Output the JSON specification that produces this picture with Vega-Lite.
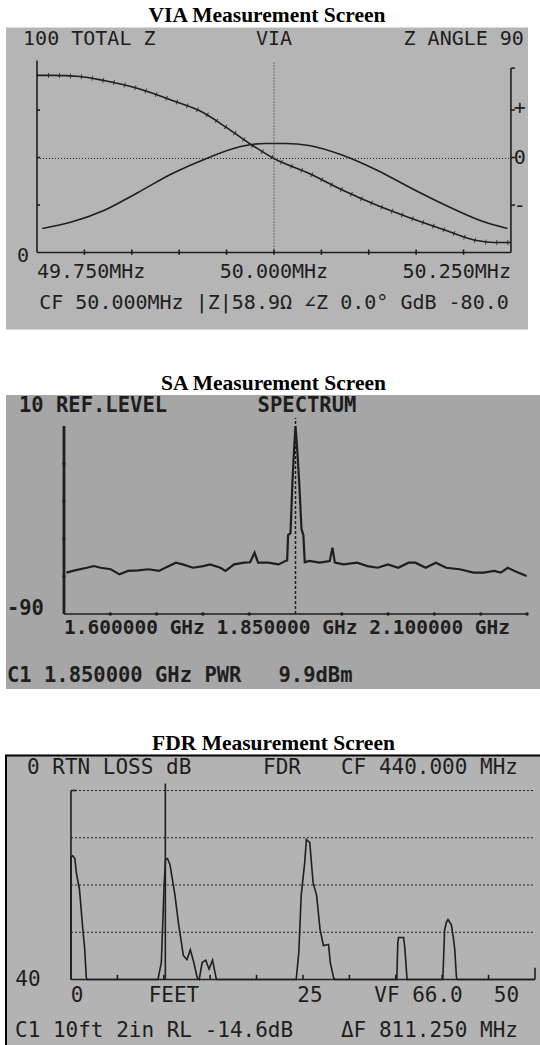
{
  "$schema": "https://vega.github.io/schema/vega-lite/v6.json",
  "padding": {"left": 5, "top": 4.5, "right": 0, "bottom": 0},
  "spacing": 42.5,
  "config": {
    "view": {"stroke": null},
    "title": {"font": "Liberation Serif", "fontSize": 21.5, "fontWeight": "bold", "color": "#000000", "offset": 1, "anchor": "middle"},
    "text": {"font": "DejaVu Sans Mono", "color": "#1e1e1e", "baseline": "middle", "fontSize": 20},
    "rule": {"color": "#1e1e1e"},
    "line": {"color": "#1e1e1e"}
  },
  "datasets": {
    "via_z": [{"f":49.75,"z":93.2},{"f":49.765,"z":93.2},{"f":49.7953,"z":92.6},{"f":49.8205,"z":90.5},{"f":49.8566,"z":86.3},{"f":49.8928,"z":80.0},{"f":49.9252,"z":73.7},{"f":49.9513,"z":65.3},{"f":49.9776,"z":56.3},{"f":50.0,"z":49.5},{"f":50.0371,"z":41.6},{"f":50.0733,"z":32.6},{"f":50.1093,"z":24.7},{"f":50.1454,"z":17.9},{"f":50.1816,"z":11.6},{"f":50.214,"z":6.3},{"f":50.232,"z":5.3},{"f":50.25,"z":5.3}],
    "via_angle": [{"f":49.7556,"a":-67.3},{"f":49.7845,"a":-61.6},{"f":49.8205,"a":-50.2},{"f":49.8566,"a":-33.1},{"f":49.8928,"a":-15.2},{"f":49.9288,"a":-0.9},{"f":49.9649,"a":10.4},{"f":49.9903,"a":13.3},{"f":50.0118,"a":13.3},{"f":50.0371,"a":11.4},{"f":50.0733,"a":1.9},{"f":50.1093,"a":-12.3},{"f":50.1454,"a":-29.4},{"f":50.1816,"a":-45.5},{"f":50.2176,"a":-59.7},{"f":50.2464,"a":-67.3}],
    "via_rules": [
      {"f":49.75,"f2":49.75,"z":0,"z2":101},{"f":49.75,"f2":50.25,"z":0,"z2":0},{"f":50.25,"f2":50.25,"z":0,"z2":97},{"f":50.25,"f2":50.2542,"z":97,"z2":97},
      {"f":49.75,"f2":49.7532,"z":25,"z2":25},{"f":49.75,"f2":49.7532,"z":50,"z2":50},{"f":49.75,"f2":49.7532,"z":75,"z2":75},
      {"f":50.25,"f2":50.2542,"z":25,"z2":25},{"f":50.25,"f2":50.2542,"z":50,"z2":50},{"f":50.25,"f2":50.2542,"z":75,"z2":75},
      {"f":49.80,"f2":49.80,"z":-1.2,"z2":1.6},{"f":49.85,"f2":49.85,"z":-1.2,"z2":1.6},{"f":49.90,"f2":49.90,"z":-1.2,"z2":1.6},{"f":49.95,"f2":49.95,"z":-1.2,"z2":1.6},{"f":50.00,"f2":50.00,"z":-1.2,"z2":1.6},{"f":50.05,"f2":50.05,"z":-1.2,"z2":1.6},{"f":50.10,"f2":50.10,"z":-1.2,"z2":1.6},{"f":50.15,"f2":50.15,"z":-1.2,"z2":1.6},{"f":50.20,"f2":50.20,"z":-1.2,"z2":1.6}
    ],
    "via_dotted": [{"f":50.0,"f2":50.0,"z":0,"z2":100},{"f":49.75,"f2":50.25,"z":49.5,"z2":49.5}],
    "via_text_left": [{"label":"100 TOTAL Z","f":49.7353,"z":112.1},{"label":"49.750MHz","f":49.75,"z":-10}],
    "via_text_center": [{"label":"VIA","f":50.0,"z":112.1},{"label":"50.000MHz","f":50.0,"z":-10},{"label":"0","f":49.7353,"z":-2},{"label":"CF 50.000MHz |Z|58.9Ω ∠Z 0.0° GdB -80.0","f":50.0,"z":-26.8},{"label":"+","f":50.2593,"z":75.8},{"label":"0","f":50.2593,"z":49.5},{"label":"-","f":50.2593,"z":24.7}],
    "via_text_right": [{"label":"Z ANGLE 90","f":50.2637,"z":112.1},{"label":"50.250MHz","f":50.25,"z":-10}],
    "sa_trace": [{"f":1.6026,"l":-68.0},{"f":1.6118,"l":-66.8},{"f":1.6248,"l":-65.4},{"f":1.6322,"l":-64.5},{"f":1.6396,"l":-65.4},{"f":1.6506,"l":-66.2},{"f":1.6599,"l":-68.9},{"f":1.6691,"l":-67.1},{"f":1.6802,"l":-66.8},{"f":1.6913,"l":-66.2},{"f":1.7024,"l":-67.1},{"f":1.7134,"l":-64.5},{"f":1.7208,"l":-62.7},{"f":1.7282,"l":-63.6},{"f":1.7393,"l":-65.4},{"f":1.7504,"l":-64.5},{"f":1.7578,"l":-63.6},{"f":1.7689,"l":-65.4},{"f":1.7745,"l":-67.1},{"f":1.7837,"l":-63.6},{"f":1.7948,"l":-62.7},{"f":1.801,"l":-62.5},{"f":1.8058,"l":-57.4},{"f":1.8096,"l":-62.7},{"f":1.8206,"l":-62.7},{"f":1.8317,"l":-63.6},{"f":1.8391,"l":-61.8},{"f":1.841,"l":-61.5},{"f":1.842,"l":-48},{"f":1.8446,"l":-47},{"f":1.8467,"l":-20},{"f":1.8485,"l":-2},{"f":1.85,"l":9.9},{"f":1.8518,"l":-2},{"f":1.854,"l":-20},{"f":1.8565,"l":-45},{"f":1.8585,"l":-48},{"f":1.86,"l":-62.5},{"f":1.8649,"l":-61.8},{"f":1.876,"l":-62.7},{"f":1.887,"l":-61.8},{"f":1.8899,"l":-54.7},{"f":1.8925,"l":-62.7},{"f":1.9018,"l":-63.6},{"f":1.9165,"l":-62.7},{"f":1.9277,"l":-64.5},{"f":1.9388,"l":-65.4},{"f":1.9498,"l":-63.6},{"f":1.9609,"l":-65.4},{"f":1.972,"l":-62.7},{"f":1.9795,"l":-62.7},{"f":1.9905,"l":-65.4},{"f":2.0016,"l":-62.7},{"f":2.0127,"l":-65.4},{"f":2.0274,"l":-66.2},{"f":2.0422,"l":-68.0},{"f":2.0533,"l":-68.0},{"f":2.0644,"l":-67.1},{"f":2.0718,"l":-68.0},{"f":2.0791,"l":-65.4},{"f":2.0865,"l":-67.1},{"f":2.0995,"l":-69.8}],
    "sa_axes": [{"f":1.6,"f2":2.1,"l":-90,"l2":-90}],
    "sa_left": [{"f":1.6,"f2":1.6,"l":-90,"l2":10}],
    "sa_dashed": [{"f":1.85,"f2":1.85,"l":-90,"l2":14.3}],
    "sa_dots": [{"f":1.65,"l":-90},{"f":1.7,"l":-90},{"f":1.75,"l":-90},{"f":1.8,"l":-90},{"f":1.9,"l":-90},{"f":1.95,"l":-90},{"f":2.0,"l":-90},{"f":2.05,"l":-90},{"f":2.1,"l":-90},{"f":1.6,"l":-10},{"f":1.6,"l":-30},{"f":1.6,"l":-50},{"f":1.6,"l":-70}],
    "sa_text_left": [{"label":"10 REF.LEVEL","f":1.5514,"l":20.6},{"label":"-90","f":1.5384,"l":-87.3},{"label":"C1 1.850000 GHz PWR\u00a0\u00a0 9.9dBm","f":1.5384,"l":-123.0}],
    "sa_text_axis": [{"label":"1.600000 GHz 1.850000 GHz 2.100000 GHz","f":1.6,"l":-97.4}],
    "sa_text_center": [{"label":"SPECTRUM","f":1.8624,"l":20.6}],
    "fdr_trace": [{"ft":0,"db":40},{"ft":0,"db":14.0},{"ft":0.18,"db":13.8},{"ft":0.42,"db":14.4},{"ft":0.58,"db":17.4},{"ft":0.92,"db":21.0},{"ft":1.28,"db":29.4},{"ft":1.47,"db":33.2},{"ft":1.65,"db":39.6},{"ft":1.75,"db":40},{"ft":9.37,"db":40},{"ft":9.74,"db":36.4},{"ft":10.04,"db":19.9},{"ft":10.19,"db":14.6},{"ft":10.4,"db":14.4},{"ft":10.67,"db":15.7},{"ft":11.21,"db":22.2},{"ft":11.57,"db":27.9},{"ft":12.11,"db":34.9},{"ft":12.5,"db":35.8},{"ft":12.86,"db":33.7},{"ft":13.24,"db":36.4},{"ft":13.6,"db":39.6},{"ft":13.82,"db":40},{"ft":14.14,"db":36.4},{"ft":14.52,"db":35.9},{"ft":14.88,"db":37.8},{"ft":15.26,"db":35.9},{"ft":15.63,"db":39.6},{"ft":15.74,"db":40},{"ft":24.27,"db":40},{"ft":24.55,"db":34.3},{"ft":24.81,"db":22.2},{"ft":25.19,"db":15.2},{"ft":25.37,"db":10.4},{"ft":25.73,"db":11.0},{"ft":26.09,"db":19.5},{"ft":26.47,"db":22.2},{"ft":26.84,"db":29.4},{"ft":27.2,"db":32.8},{"ft":27.76,"db":32.6},{"ft":27.94,"db":36.4},{"ft":28.3,"db":39.6},{"ft":28.44,"db":40},{"ft":35.11,"db":40},{"ft":35.22,"db":32.2},{"ft":35.3,"db":31.1},{"ft":35.84,"db":31.1},{"ft":35.97,"db":33.2},{"ft":36.22,"db":40},{"ft":40.07,"db":40},{"ft":40.26,"db":29.6},{"ft":40.45,"db":27.9},{"ft":40.63,"db":27.3},{"ft":40.99,"db":28.4},{"ft":41.2,"db":31.1},{"ft":41.36,"db":33.7},{"ft":41.54,"db":39.6},{"ft":41.63,"db":40},{"ft":50,"db":40}],
    "fdr_rules": [{"ft":0,"ft2":0,"db":0,"db2":40},{"ft":0,"ft2":50,"db":40,"db2":40},{"ft":10.17,"ft2":10.17,"db":-1.5,"db2":40},{"ft":0,"ft2":0.6,"db":0,"db2":0},{"ft":5,"ft2":5,"db":40,"db2":39},{"ft":10,"ft2":10,"db":40,"db2":39},{"ft":15,"ft2":15,"db":40,"db2":39},{"ft":20,"ft2":20,"db":40,"db2":39},{"ft":25,"ft2":25,"db":40,"db2":39},{"ft":30,"ft2":30,"db":40,"db2":39},{"ft":35,"ft2":35,"db":40,"db2":39},{"ft":40,"ft2":40,"db":40,"db2":39},{"ft":45,"ft2":45,"db":40,"db2":39},{"ft":50,"ft2":50,"db":40,"db2":37.5}],
    "fdr_grid": [{"ft":0,"ft2":50,"db":0,"db2":0},{"ft":0,"ft2":50,"db":10,"db2":10},{"ft":0,"ft2":50,"db":20,"db2":20},{"ft":0,"ft2":50,"db":30,"db2":30}],
    "fdr_text_left": [{"label":"0 RTN LOSS dB","ft":-4.74,"db":-4.87},{"label":"C1 10ft 2in RL -14.6dB","ft":-6.03,"db":50.8}],
    "fdr_text_center": [{"label":"FDR","ft":22.74,"db":-4.87},{"label":"40","ft":-4.63,"db":40},{"label":"0","ft":0.65,"db":43.4},{"label":"FEET","ft":11.1,"db":43.4},{"label":"25","ft":25.75,"db":43.4},{"label":"VF 66.0","ft":37.45,"db":43.4},{"label":"50","ft":46.93,"db":43.4}],
    "fdr_text_right": [{"label":"CF 440.000 MHz","ft":48.17,"db":-4.87},{"label":"ΔF 811.250 MHz","ft":48.17,"db":50.8}]
  },
  "vconcat": [
    {
      "title": "VIA Measurement Screen",
      "width": 522, "height": 302,
      "view": {"fill": "#b5b5b5", "stroke": null},
      "resolve": {"scale": {"y": "independent"}},
      "layer": [
        {"data": {"name": "via_dotted"}, "mark": {"type": "rule", "strokeWidth": 1, "strokeDash": [1, 2]},
         "encoding": {"x": {"field": "f", "type": "quantitative", "scale": {"domain": [49.7173, 50.268], "nice": false, "zero": false}, "axis": null}, "x2": {"field": "f2"},
                      "y": {"field": "z", "type": "quantitative", "scale": {"domain": [-40.5, 118.4], "nice": false, "zero": false}, "axis": null}, "y2": {"field": "z2"}}},
        {"data": {"name": "via_rules"}, "mark": {"type": "rule", "strokeWidth": 1.6},
         "encoding": {"x": {"field": "f", "type": "quantitative", "scale": {"domain": [49.7173, 50.268], "nice": false, "zero": false}, "axis": null}, "x2": {"field": "f2"},
                      "y": {"field": "z", "type": "quantitative", "scale": {"domain": [-40.5, 118.4], "nice": false, "zero": false}, "axis": null}, "y2": {"field": "z2"}}},
        {"data": {"name": "via_z"}, "mark": {"type": "line", "strokeWidth": 1.6, "interpolate": "monotone"},
         "encoding": {"x": {"field": "f", "type": "quantitative", "scale": {"domain": [49.7173, 50.268], "nice": false, "zero": false}, "axis": null},
                      "y": {"field": "z", "type": "quantitative", "scale": {"domain": [-40.5, 118.4], "nice": false, "zero": false}, "axis": null}}},
        {"data": {"name": "via_z"}, "mark": {"type": "line", "strokeWidth": 5, "interpolate": "monotone", "strokeDash": [1, 10], "strokeCap": "butt", "opacity": 0.8},
         "encoding": {"x": {"field": "f", "type": "quantitative", "scale": {"domain": [49.7173, 50.268], "nice": false, "zero": false}, "axis": null},
                      "y": {"field": "z", "type": "quantitative", "scale": {"domain": [-40.5, 118.4], "nice": false, "zero": false}, "axis": null}}},
        {"data": {"name": "via_angle"}, "mark": {"type": "line", "strokeWidth": 1.6, "interpolate": "monotone"},
         "encoding": {"x": {"field": "f", "type": "quantitative", "scale": {"domain": [49.7173, 50.268], "nice": false, "zero": false}, "axis": null},
                      "y": {"field": "a", "type": "quantitative", "scale": {"domain": [-162.9, 123.1], "nice": false, "zero": false}, "axis": null}}},
        {"data": {"name": "via_text_left"}, "mark": {"type": "text", "align": "left"},
         "encoding": {"x": {"field": "f", "type": "quantitative", "scale": {"domain": [49.7173, 50.268], "nice": false, "zero": false}, "axis": null},
                      "y": {"field": "z", "type": "quantitative", "scale": {"domain": [-40.5, 118.4], "nice": false, "zero": false}, "axis": null}, "text": {"field": "label"}}},
        {"data": {"name": "via_text_center"}, "mark": {"type": "text", "align": "center"},
         "encoding": {"x": {"field": "f", "type": "quantitative", "scale": {"domain": [49.7173, 50.268], "nice": false, "zero": false}, "axis": null},
                      "y": {"field": "z", "type": "quantitative", "scale": {"domain": [-40.5, 118.4], "nice": false, "zero": false}, "axis": null}, "text": {"field": "label"}}},
        {"data": {"name": "via_text_right"}, "mark": {"type": "text", "align": "right"},
         "encoding": {"x": {"field": "f", "type": "quantitative", "scale": {"domain": [49.7173, 50.268], "nice": false, "zero": false}, "axis": null},
                      "y": {"field": "z", "type": "quantitative", "scale": {"domain": [-40.5, 118.4], "nice": false, "zero": false}, "axis": null}, "text": {"field": "label"}}}
      ]
    },
    {
      "title": "SA Measurement Screen",
      "width": 535, "height": 294,
      "view": {"fill": "#a6a6a6", "stroke": null},
      "layer": [
        {"data": {"name": "sa_dashed"}, "mark": {"type": "rule", "strokeWidth": 1.5, "strokeDash": [3, 2]},
         "encoding": {"x": {"field": "f", "type": "quantitative", "scale": {"domain": [1.5374, 2.1151], "nice": false, "zero": false}, "axis": null}, "x2": {"field": "f2"},
                      "y": {"field": "l", "type": "quantitative", "scale": {"domain": [-129.9, 26.49], "nice": false, "zero": false}, "axis": null}, "y2": {"field": "l2"}}},
        {"data": {"name": "sa_axes"}, "mark": {"type": "rule", "strokeWidth": 1.5},
         "encoding": {"x": {"field": "f", "type": "quantitative", "scale": {"domain": [1.5374, 2.1151], "nice": false, "zero": false}, "axis": null}, "x2": {"field": "f2"},
                      "y": {"field": "l", "type": "quantitative", "scale": {"domain": [-129.9, 26.49], "nice": false, "zero": false}, "axis": null}, "y2": {"field": "l2"}}},
        {"data": {"name": "sa_left"}, "mark": {"type": "rule", "strokeWidth": 2.8},
         "encoding": {"x": {"field": "f", "type": "quantitative", "scale": {"domain": [1.5374, 2.1151], "nice": false, "zero": false}, "axis": null}, "x2": {"field": "f2"},
                      "y": {"field": "l", "type": "quantitative", "scale": {"domain": [-129.9, 26.49], "nice": false, "zero": false}, "axis": null}, "y2": {"field": "l2"}}},
        {"data": {"name": "sa_dots"}, "mark": {"type": "point", "filled": true, "size": 12, "color": "#1e1e1e", "opacity": 1},
         "encoding": {"x": {"field": "f", "type": "quantitative", "scale": {"domain": [1.5374, 2.1151], "nice": false, "zero": false}, "axis": null},
                      "y": {"field": "l", "type": "quantitative", "scale": {"domain": [-129.9, 26.49], "nice": false, "zero": false}, "axis": null}}},
        {"data": {"name": "sa_trace"}, "mark": {"type": "line", "strokeWidth": 2.2},
         "encoding": {"x": {"field": "f", "type": "quantitative", "scale": {"domain": [1.5374, 2.1151], "nice": false, "zero": false}, "axis": null},
                      "y": {"field": "l", "type": "quantitative", "scale": {"domain": [-129.9, 26.49], "nice": false, "zero": false}, "axis": null}}},
        {"data": {"name": "sa_text_left"}, "mark": {"type": "text", "align": "left", "fontWeight": "bold", "fontSize": 20.5},
         "encoding": {"x": {"field": "f", "type": "quantitative", "scale": {"domain": [1.5374, 2.1151], "nice": false, "zero": false}, "axis": null},
                      "y": {"field": "l", "type": "quantitative", "scale": {"domain": [-129.9, 26.49], "nice": false, "zero": false}, "axis": null}, "text": {"field": "label"}}},
        {"data": {"name": "sa_text_axis"}, "mark": {"type": "text", "align": "left", "fontWeight": "bold", "fontSize": 19.5},
         "encoding": {"x": {"field": "f", "type": "quantitative", "scale": {"domain": [1.5374, 2.1151], "nice": false, "zero": false}, "axis": null},
                      "y": {"field": "l", "type": "quantitative", "scale": {"domain": [-129.9, 26.49], "nice": false, "zero": false}, "axis": null}, "text": {"field": "label"}}},
        {"data": {"name": "sa_text_center"}, "mark": {"type": "text", "align": "center", "fontWeight": "bold", "fontSize": 20.5},
         "encoding": {"x": {"field": "f", "type": "quantitative", "scale": {"domain": [1.5374, 2.1151], "nice": false, "zero": false}, "axis": null},
                      "y": {"field": "l", "type": "quantitative", "scale": {"domain": [-129.9, 26.49], "nice": false, "zero": false}, "axis": null}, "text": {"field": "label"}}}
      ]
    },
    {
      "title": "FDR Measurement Screen",
      "width": 535, "height": 291,
      "view": {"fill": "#b3b3b3", "stroke": "#000000", "strokeWidth": 2},
      "layer": [
        {"data": {"name": "fdr_grid"}, "mark": {"type": "rule", "strokeWidth": 1, "strokeDash": [2, 2]},
         "encoding": {"x": {"field": "ft", "type": "quantitative", "scale": {"domain": [-7.0, 50.65], "nice": false, "zero": false}, "axis": null}, "x2": {"field": "ft2"},
                      "y": {"field": "db", "type": "quantitative", "scale": {"domain": [-7.41, 54.18], "reverse": true, "nice": false, "zero": false}, "axis": null}, "y2": {"field": "db2"}}},
        {"data": {"name": "fdr_rules"}, "mark": {"type": "rule", "strokeWidth": 1.6},
         "encoding": {"x": {"field": "ft", "type": "quantitative", "scale": {"domain": [-7.0, 50.65], "nice": false, "zero": false}, "axis": null}, "x2": {"field": "ft2"},
                      "y": {"field": "db", "type": "quantitative", "scale": {"domain": [-7.41, 54.18], "reverse": true, "nice": false, "zero": false}, "axis": null}, "y2": {"field": "db2"}}},
        {"data": {"name": "fdr_trace"}, "mark": {"type": "line", "strokeWidth": 1.6},
         "encoding": {"x": {"field": "ft", "type": "quantitative", "scale": {"domain": [-7.0, 50.65], "nice": false, "zero": false}, "axis": null},
                      "y": {"field": "db", "type": "quantitative", "scale": {"domain": [-7.41, 54.18], "reverse": true, "nice": false, "zero": false}, "axis": null},
                      "order": {"value": null}}},
        {"data": {"name": "fdr_text_left"}, "mark": {"type": "text", "align": "left", "fontSize": 21},
         "encoding": {"x": {"field": "ft", "type": "quantitative", "scale": {"domain": [-7.0, 50.65], "nice": false, "zero": false}, "axis": null},
                      "y": {"field": "db", "type": "quantitative", "scale": {"domain": [-7.41, 54.18], "reverse": true, "nice": false, "zero": false}, "axis": null}, "text": {"field": "label"}}},
        {"data": {"name": "fdr_text_center"}, "mark": {"type": "text", "align": "center", "fontSize": 21},
         "encoding": {"x": {"field": "ft", "type": "quantitative", "scale": {"domain": [-7.0, 50.65], "nice": false, "zero": false}, "axis": null},
                      "y": {"field": "db", "type": "quantitative", "scale": {"domain": [-7.41, 54.18], "reverse": true, "nice": false, "zero": false}, "axis": null}, "text": {"field": "label"}}},
        {"data": {"name": "fdr_text_right"}, "mark": {"type": "text", "align": "right", "fontSize": 21},
         "encoding": {"x": {"field": "ft", "type": "quantitative", "scale": {"domain": [-7.0, 50.65], "nice": false, "zero": false}, "axis": null},
                      "y": {"field": "db", "type": "quantitative", "scale": {"domain": [-7.41, 54.18], "reverse": true, "nice": false, "zero": false}, "axis": null}, "text": {"field": "label"}}}
      ]
    }
  ]
}
